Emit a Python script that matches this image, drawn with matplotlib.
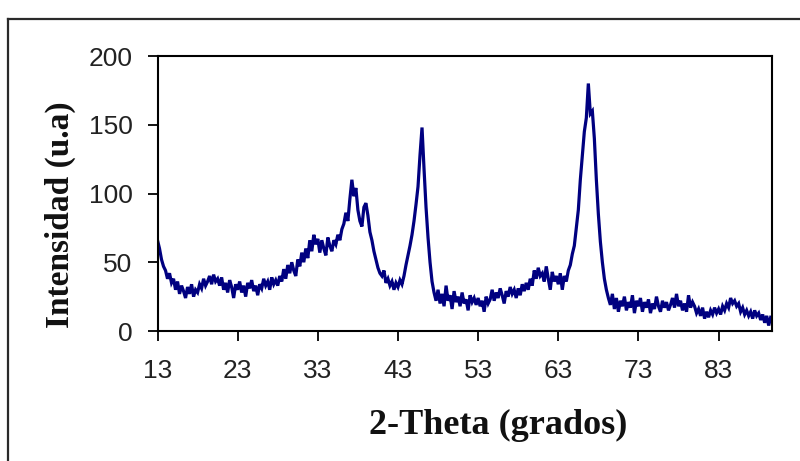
import numpy as np
import matplotlib
matplotlib.use("Agg")
import matplotlib.pyplot as plt
from matplotlib.lines import Line2D

# 2-Theta grid: start and step (degrees)
theta_start = 13.0
theta_step = 0.25

# Intensity (u.a), 20 values per 5 degrees
intensity = [
    # 13.00 - 17.75
    66, 60, 52, 47, 44, 38, 42, 35, 38, 30, 36, 27, 33, 29, 24, 32, 27, 34, 25, 30,
    # 18.00 - 22.75
    28, 34, 31, 38, 33, 36, 40, 34, 41, 36, 38, 33, 39, 30, 35, 28, 37, 32, 24, 34,
    # 23.00 - 27.75
    30, 36, 28, 33, 25, 35, 31, 37, 29, 33, 26, 34, 31, 38, 33, 36, 30, 39, 34, 37,
    # 28.00 - 32.75
    33, 40, 36, 45, 38, 48, 42, 50, 44, 40, 52, 47, 57, 50, 60, 53, 66, 58, 70, 63,
    # 33.00 - 37.75
    67, 57, 66, 60, 55, 68, 62, 58, 66, 63, 70, 66, 74, 78, 86, 80, 96, 110, 98, 104,
    # 38.00 - 42.75
    88, 80, 76, 90, 93, 84, 72, 66, 58, 52, 46, 42, 40, 44, 35, 38, 33, 36, 30, 35,
    # 43.00 - 47.75
    32, 37, 34, 40, 48, 55, 62, 70, 80, 92, 105, 128, 148, 118, 90, 68, 50, 36, 28, 22,
    # 48.00 - 52.75
    30, 20, 27, 18, 33, 22, 26, 16, 29, 21, 25, 18, 28, 20, 23, 15, 26, 21, 24, 19,
    # 53.00 - 57.75
    24, 18, 22, 14, 25, 20, 23, 30, 22, 28, 24, 31, 26, 20, 29, 25, 32, 27, 30, 24,
    # 58.00 - 62.75
    31, 26, 34, 29, 35, 30, 38, 33, 44, 38, 46, 40, 42, 36, 47, 38, 30, 43, 36, 40,
    # 63.00 - 67.75
    34, 42, 30, 40, 36, 44, 48, 56, 62, 75, 88, 110, 128, 145, 155, 180, 158, 160, 140, 110,
    # 68.00 - 72.75
    85, 65, 50, 38, 30, 24, 19, 27, 16, 24, 14, 22, 18, 25, 15, 21, 17, 26, 13, 22,
    # 73.00 - 77.75
    18, 24, 14, 21, 17, 23, 13, 20, 16, 25, 18, 14, 22, 17, 21, 15, 19, 24, 17, 27,
    # 78.00 - 82.75
    18, 22, 15, 20, 14, 26, 17, 21, 18, 13, 16, 11, 17, 9, 14, 10, 15, 12, 17, 13,
    # 83.00 - 87.75
    16, 12, 18, 15, 20, 17, 24, 20, 22, 18, 20, 14, 17, 12, 15, 11, 14, 9, 15, 11,
    # 88.00 - 89.50
    13, 8, 12, 6, 11, 4, 10,
]

x_ticks = [13, 23, 33, 43, 53, 63, 73, 83]
y_ticks = [0, 50, 100, 150, 200]
x_label = "2-Theta (grados)"
y_label = "Intensidad (u.a)"

two_theta = theta_start + theta_step * np.arange(len(intensity))

W, H = 800, 461
fig = plt.figure(figsize=(W / 100, H / 100), dpi=100)
fig.patch.set_facecolor("white")

# outer frame (only top/left visible in the reference)
fig.add_artist(Line2D([8 / W, 8 / W], [0, 1 - 19 / H], transform=fig.transFigure,
                      color="#2a2a2a", lw=1.6))
fig.add_artist(Line2D([8 / W, 1], [1 - 19 / H, 1 - 19 / H], transform=fig.transFigure,
                      color="#2a2a2a", lw=1.6))

ax = fig.add_axes([157.5 / W, 1 - 331 / H, 614 / W, 275 / H])
ax.plot(two_theta, intensity, color="#000080", lw=2.3, solid_joinstyle="miter")
ax.set_xlim(13, 89.6)
ax.set_ylim(0, 200)
ax.set_xticks(x_ticks)
ax.set_yticks(y_ticks)

tick_font = dict(family=["Liberation Sans", "DejaVu Sans"], size=19)
ax.set_xticklabels([str(v) for v in x_ticks], fontdict=tick_font, color="#222222")
ax.set_yticklabels([str(v) for v in y_ticks], fontdict=tick_font, color="#222222")
ax.tick_params(axis="both", direction="out", length=7, width=1.3, color="black")
ax.tick_params(axis="x", pad=13)
ax.tick_params(axis="y", pad=11)
for s in ax.spines.values():
    s.set_linewidth(1.5)
    s.set_color("black")

fig.text(498 / W, 1 - 425 / H, x_label, ha="center", va="center",
         family=["Liberation Serif", "DejaVu Serif"], weight="bold", size=26,
         color="#111111")
fig.text(60 / W, 1 - 215 / H, y_label, ha="center", va="center", rotation=90,
         family=["Liberation Serif", "DejaVu Serif"], weight="bold", size=24,
         color="#111111")

fig.savefig("out.png", dpi=100)
